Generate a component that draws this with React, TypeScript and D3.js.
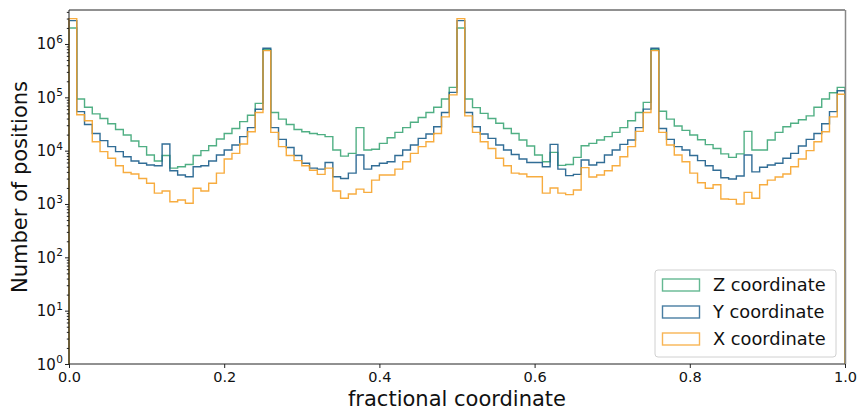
import React, { useEffect, useRef } from 'react'
import * as d3 from 'd3'

// histogram counts per bin (100 bins on [0, 1])
const zCounts = [
  2.0e6, 9.3e4, 6.5e4, 4.9e4, 4.0e4, 3.2e4, 2.5e4, 1.97e4, 1.52e4, 1.19e4,
  8.3e3, 6.4e3, 8.1e3, 4.7e3, 5.0e3, 5.5e3, 8.1e3, 1.0e4, 1.24e4, 1.66e4,
  2.1e4, 2.6e4, 3.5e4, 4.6e4, 7.7e4, 7.9e5, 5.2e4, 3.9e4, 3.1e4, 2.5e4,
  2.27e4, 2.1e4, 2.0e4, 1.83e4, 1.03e4, 7.9e3, 8.9e3, 2.7e4, 1.03e4, 1.06e4,
  1.37e4, 1.75e4, 2.2e4, 2.7e4, 3.4e4, 4.2e4, 5.2e4, 6.5e4, 9.3e4, 1.54e5,
  2.0e6, 9.3e4, 6.4e4, 5.0e4, 4.0e4, 3.26e4, 2.6e4, 2.1e4, 1.58e4, 1.22e4,
  8.3e3, 6.2e3, 9.3e3, 5.3e3, 5.5e3, 7.5e3, 1.24e4, 1.37e4, 1.58e4, 1.83e4,
  2.2e4, 2.7e4, 3.65e4, 5.2e4, 8.06e4, 7.9e5, 5.5e4, 3.9e4, 2.9e4, 2.4e4,
  1.97e4, 1.6e4, 1.3e4, 1.1e4, 8.7e3, 7.5e3, 8.7e3, 2.3e4, 1.03e4, 1.03e4,
  1.58e4, 2.2e4, 2.8e4, 3.26e4, 3.8e4, 4.5e4, 6.5e4, 9.3e4, 1.22e5, 1.54e5,
]
const yCounts = [
  2.74e6, 5.4e4, 3.1e4, 2.1e4, 1.54e4, 1.19e4, 9.6e3, 7.7e3, 6.4e3, 5.8e3,
  5.4e3, 5.2e3, 1.33e4, 4.2e3, 3.5e3, 3.25e3, 5.0e3, 5.2e3, 6.4e3, 8.3e3,
  1.03e4, 1.28e4, 1.83e4, 2.7e4, 5.96e4, 8.3e5, 2.7e4, 1.63e4, 1.15e4, 8.1e3,
  5.8e3, 4.7e3, 4.5e3, 6.0e3, 3.25e3, 3.0e3, 3.8e3, 8.3e3, 4.5e3, 5.2e3,
  5.8e3, 6.2e3, 8.1e3, 1.03e4, 1.28e4, 1.7e4, 2.05e4, 2.8e4, 5.2e4, 1.24e5,
  2.74e6, 5.2e4, 2.8e4, 2.05e4, 1.7e4, 1.28e4, 1.03e4, 8.5e3, 7.0e3, 6.0e3,
  6.0e3, 5.0e3, 1.31e4, 4.5e3, 3.4e3, 3.6e3, 6.7e3, 5.4e3, 6.0e3, 8.3e3,
  1.03e4, 1.31e4, 1.58e4, 2.7e4, 6.0e4, 8.3e5, 2.6e4, 1.63e4, 1.19e4, 1.03e4,
  8.1e3, 6.5e3, 5.2e3, 4.3e3, 3.1e3, 2.95e3, 3.35e3, 8.3e3, 4.0e3, 4.9e3,
  5.4e3, 5.8e3, 7.2e3, 8.9e3, 1.22e4, 1.63e4, 2.1e4, 3.2e4, 5.4e4, 1.33e5,
]
const xCounts = [
  2.99e6, 4.7e4, 3.65e4, 1.47e4, 9.6e3, 7.2e3, 5.2e3, 3.9e3, 3.65e3, 3.0e3,
  2.45e3, 1.6e3, 1.75e3, 1.1e3, 1.19e3, 1.03e3, 1.97e3, 1.75e3, 2.45e3, 3.8e3,
  7.0e3, 8.9e3, 1.33e4, 2.27e4, 5.2e4, 7.5e5, 2.2e4, 1.19e4, 8.1e3, 6.5e3,
  5.2e3, 4.3e3, 3.6e3, 4.7e3, 1.75e3, 1.28e3, 1.54e3, 1.9e3, 1.65e3, 2.8e3,
  3.5e3, 3.5e3, 4.5e3, 6.2e3, 8.9e3, 1.19e4, 1.47e4, 2.1e4, 4.3e4, 1.11e5,
  2.99e6, 4.5e4, 2.2e4, 1.47e4, 1.1e4, 7.2e3, 5.2e3, 3.8e3, 3.65e3, 3.25e3,
  3.25e3, 1.6e3, 2.0e3, 1.6e3, 1.5e3, 1.83e3, 4.8e3, 3.2e3, 3.5e3, 4.2e3,
  5.2e3, 7.7e3, 1.19e4, 2.3e4, 5.2e4, 7.5e5, 2.2e4, 1.28e4, 8.3e3, 6.2e3,
  3.8e3, 2.5e3, 1.97e3, 2.3e3, 1.24e3, 1.22e3, 1.0e3, 1.65e3, 1.28e3, 2.3e3,
  2.8e3, 3.2e3, 3.65e3, 5.0e3, 7.0e3, 1.0e4, 1.47e4, 2.27e4, 4.3e4, 1.14e5,
]

const seriesNames = ['Z coordinate', 'Y coordinate', 'X coordinate']
const seriesColors = ['#3da677', '#1b5d8b', '#f6a32a']
const xTicks = [0, 0.2, 0.4, 0.6, 0.8, 1.0]
const yExponents = [0, 1, 2, 3, 4, 5, 6]

const W = 858
const H = 410
const font = 'DejaVu Sans, sans-serif'

export default function App() {
  const svgRef = useRef<SVGSVGElement>(null)

  useEffect(() => {
    const svg = d3.select(svgRef.current)
    svg.selectAll('*').remove()

    const left = 69, right = 845, top = 10, bottom = 364
    const x = d3.scaleLinear().domain([0, 1]).range([left, right])
    const y = d3.scaleLog().domain([1, 4.34e6]).range([bottom, top])

    const edges = d3.range(101).map(i => i / 100)
    const stepLine = d3.line<[number, number]>()
      .x(d => x(d[0]))
      .y(d => y(d[1]))
      .curve(d3.curveStepAfter)

    const series = [zCounts, yCounts, xCounts]
    series.forEach((counts, s) => {
      const pts: [number, number][] = [[0, 1]]
      counts.forEach((c, i) => pts.push([edges[i], c]))
      pts.push([1, counts[counts.length - 1]])
      pts.push([1, 1])
      svg.append('path')
        .attr('d', stepLine(pts))
        .attr('fill', 'none')
        .attr('stroke', seriesColors[s])
        .attr('stroke-width', 1.4)
        .attr('stroke-opacity', 0.9)
    })

    // frame (right spine looks grey, blended with the step edges)
    svg.append('path')
      .attr('d', `M${right},${top}H${left}V${bottom}H${right}`)
      .attr('fill', 'none').attr('stroke', '#222').attr('stroke-width', 1)
    svg.append('line')
      .attr('x1', right + 0.5).attr('x2', right + 0.5).attr('y1', top).attr('y2', bottom)
      .attr('stroke', '#888').attr('stroke-width', 1.5)

    // x axis
    const xAxis = d3.axisBottom(x).tickValues(xTicks).tickSize(4).tickPadding(4)
      .tickFormat(d => d3.format('.1f')(d as number))
    const gx = svg.append('g').attr('transform', `translate(0,${bottom})`).call(xAxis)
    gx.select('.domain').remove()
    gx.selectAll('line').attr('stroke', '#222')
    gx.selectAll('text').attr('font-family', font).attr('font-size', 14.5).attr('fill', '#111')

    // y axis, minor ticks
    const minor: number[] = []
    yExponents.forEach(k => d3.range(2, 10).forEach(m => { if (m * 10 ** k < 4.34e6) minor.push(m * 10 ** k) }))
    const gyMinor = svg.append('g').attr('transform', `translate(${left},0)`)
      .call(d3.axisLeft(y).tickValues(minor).tickSize(2.2).tickFormat(() => ''))
    gyMinor.select('.domain').remove()
    gyMinor.selectAll('line').attr('stroke', '#222')

    const majors = yExponents.map(k => 10 ** k)
    const gy = svg.append('g').attr('transform', `translate(${left},0)`)
      .call(d3.axisLeft(y).tickValues(majors).tickSize(4).tickFormat(() => ''))
    gy.select('.domain').remove()
    gy.selectAll('line').attr('stroke', '#222')

    yExponents.forEach(k => {
      const t = svg.append('text')
        .attr('x', 63).attr('y', y(10 ** k) + 5.5)
        .attr('text-anchor', 'end')
        .attr('font-family', font).attr('fill', '#111')
      t.append('tspan').attr('font-size', 15).text('10')
      t.append('tspan').attr('font-size', 10.5).attr('dx', 0.5).attr('dy', -6.5).text(String(k))
    })

    // axis labels
    svg.append('text')
      .attr('x', (left + right) / 2).attr('y', 406)
      .attr('text-anchor', 'middle')
      .attr('font-family', font).attr('font-size', 21).attr('fill', '#111')
      .text('fractional coordinate')
    svg.append('text')
      .attr('transform', `translate(27,${(top + bottom) / 2}) rotate(-90)`)
      .attr('text-anchor', 'middle')
      .attr('font-family', font).attr('font-size', 21).attr('fill', '#111')
      .text('Number of positions')

    // legend
    const lg = svg.append('g').attr('transform', 'translate(655,270)')
    lg.append('rect')
      .attr('width', 181).attr('height', 87).attr('rx', 3)
      .attr('fill', 'white').attr('fill-opacity', 0.8)
      .attr('stroke', '#d0d0d0').attr('stroke-width', 1)
    seriesNames.forEach((name, i) => {
      const cy = 15 + i * 27
      lg.append('rect')
        .attr('x', 7.5).attr('y', cy - 6)
        .attr('width', 37).attr('height', 12)
        .attr('fill', 'none').attr('stroke', seriesColors[i])
        .attr('stroke-width', 1.4).attr('stroke-opacity', 0.8)
      lg.append('text')
        .attr('x', 58).attr('y', cy + 6)
        .attr('font-family', font).attr('font-size', 17.8).attr('fill', '#111')
        .text(name)
    })
  }, [])

  return (
    <svg ref={svgRef} width={W} height={H}
      style={{ position: 'absolute', left: 0, top: 0, background: 'white' }} />
  )
}
